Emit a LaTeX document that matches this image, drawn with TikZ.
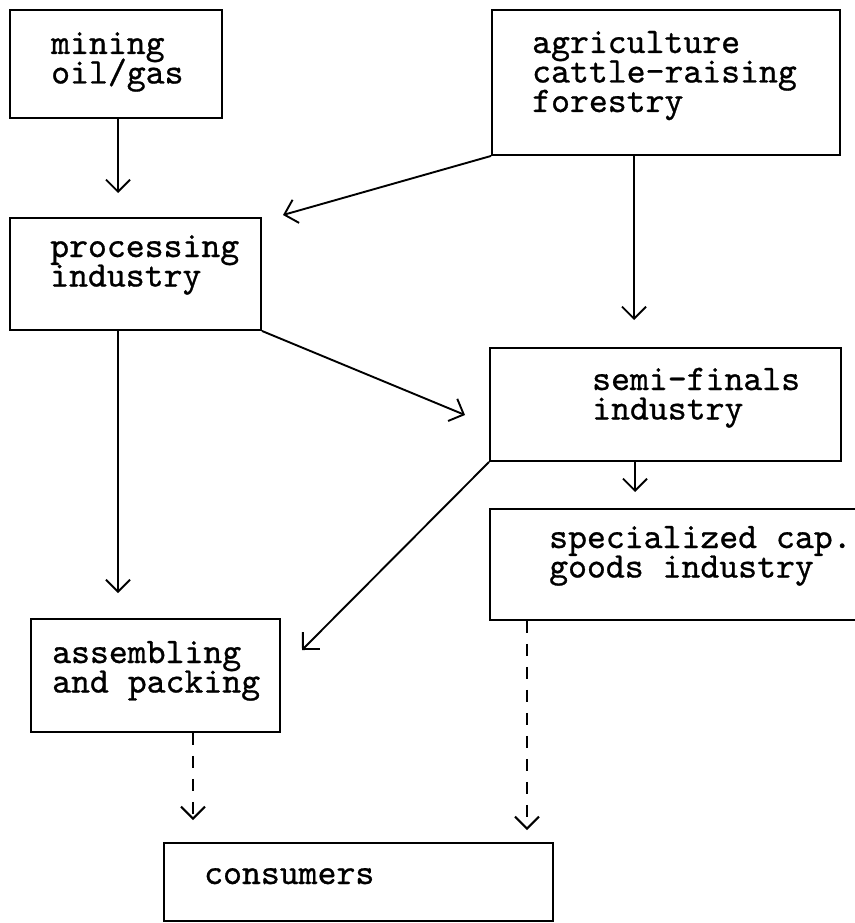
\documentclass[tikz,border=0pt]{standalone}
\usetikzlibrary{arrows.meta}
\font\twfont="[lmmono10-regular.otf]:embolden=0.8" at 36pt
\newcommand\boxlines[1]{\vtop{\baselineskip=29.5pt\lineskiplimit=-\maxdimen\lineskip=0pt #1}}
\begin{document}
\begin{tikzpicture}[x=1pt,y=-1pt,
  boxnode/.style={draw, line width=1.9pt, inner sep=0pt, anchor=center},
  lbl/.style={anchor=base west, inner sep=0pt, font=\twfont},
  arr/.style={line width=1.9pt, -{Straight Barb[length=12pt,width=24pt]}},
  darr/.style={line width=2.6pt, dash pattern=on 12pt off 11pt, -{Straight Barb[length=12pt,width=24pt,line width=2pt]}}]
\useasboundingbox (0,0) rectangle (854,923);
% boxes
\node[boxnode, minimum width=212pt, minimum height=108pt] (mining) at (116,64) {};
\node[boxnode, minimum width=348pt, minimum height=145pt] (agri) at (666,82.5) {};
\node[boxnode, minimum width=251pt, minimum height=112pt] (proc) at (135.5,274) {};
\node[boxnode, minimum width=351pt, minimum height=113pt] (semi) at (665.5,404.5) {};
\node[boxnode, minimum width=370pt, minimum height=111pt] (spec) at (675,564.5) {};
\node[boxnode, minimum width=249pt, minimum height=113pt] (assem) at (155.5,675.5) {};
\node[boxnode, minimum width=389pt, minimum height=78pt] (cons) at (358.5,882) {};
% texts
\node[lbl] (miningt) at (51,54) {\boxlines{\hbox{mining}\hbox{oil/gas}}};
\node[lbl] (agrit) at (532,53) {\boxlines{\hbox{agriculture}\hbox{cattle-raising}\hbox{forestry}}};
\node[lbl] (proct) at (50,257) {\boxlines{\hbox{processing}\hbox{industry}}};
\node[lbl] (semit) at (592,390) {\boxlines{\hbox{semi-finals}\hbox{industry}}};
\node[lbl] (spect) at (549,548) {\boxlines{\hbox{specialized cap.}\hbox{goods industry}}};
\node[lbl] (assemt) at (52,663) {\boxlines{\hbox{assembling}\hbox{and packing}}};
\node[lbl] (const) at (204,884) {consumers};
% arrow tips
\coordinate (t1) at (118,193);
\coordinate (t2) at (283,215);
\coordinate (t3) at (634,320);
\coordinate (t4) at (465,415);
\coordinate (t5) at (118,593);
\coordinate (t6) at (302,650);
\coordinate (t7) at (635,492);
\coordinate (t8) at (193,820);
\coordinate (t9) at (527,830);
% connectors
\draw[arr] (mining.south -| t1) -- (t1);
\draw[arr] (agri.south west) -- (t2);
\draw[arr] (agri.south -| t3) -- (t3);
\draw[arr] (proc.south east) -- (t4);
\draw[arr] (proc.south -| t5) -- (t5);
\draw[arr] (semi.south west) -- (t6);
\draw[arr] (semi.south -| t7) -- (t7);
\draw[darr] (assem.south -| t8) -- (t8);
\draw[darr] (spec.south -| t9) -- (t9);
\end{tikzpicture}
\end{document}
